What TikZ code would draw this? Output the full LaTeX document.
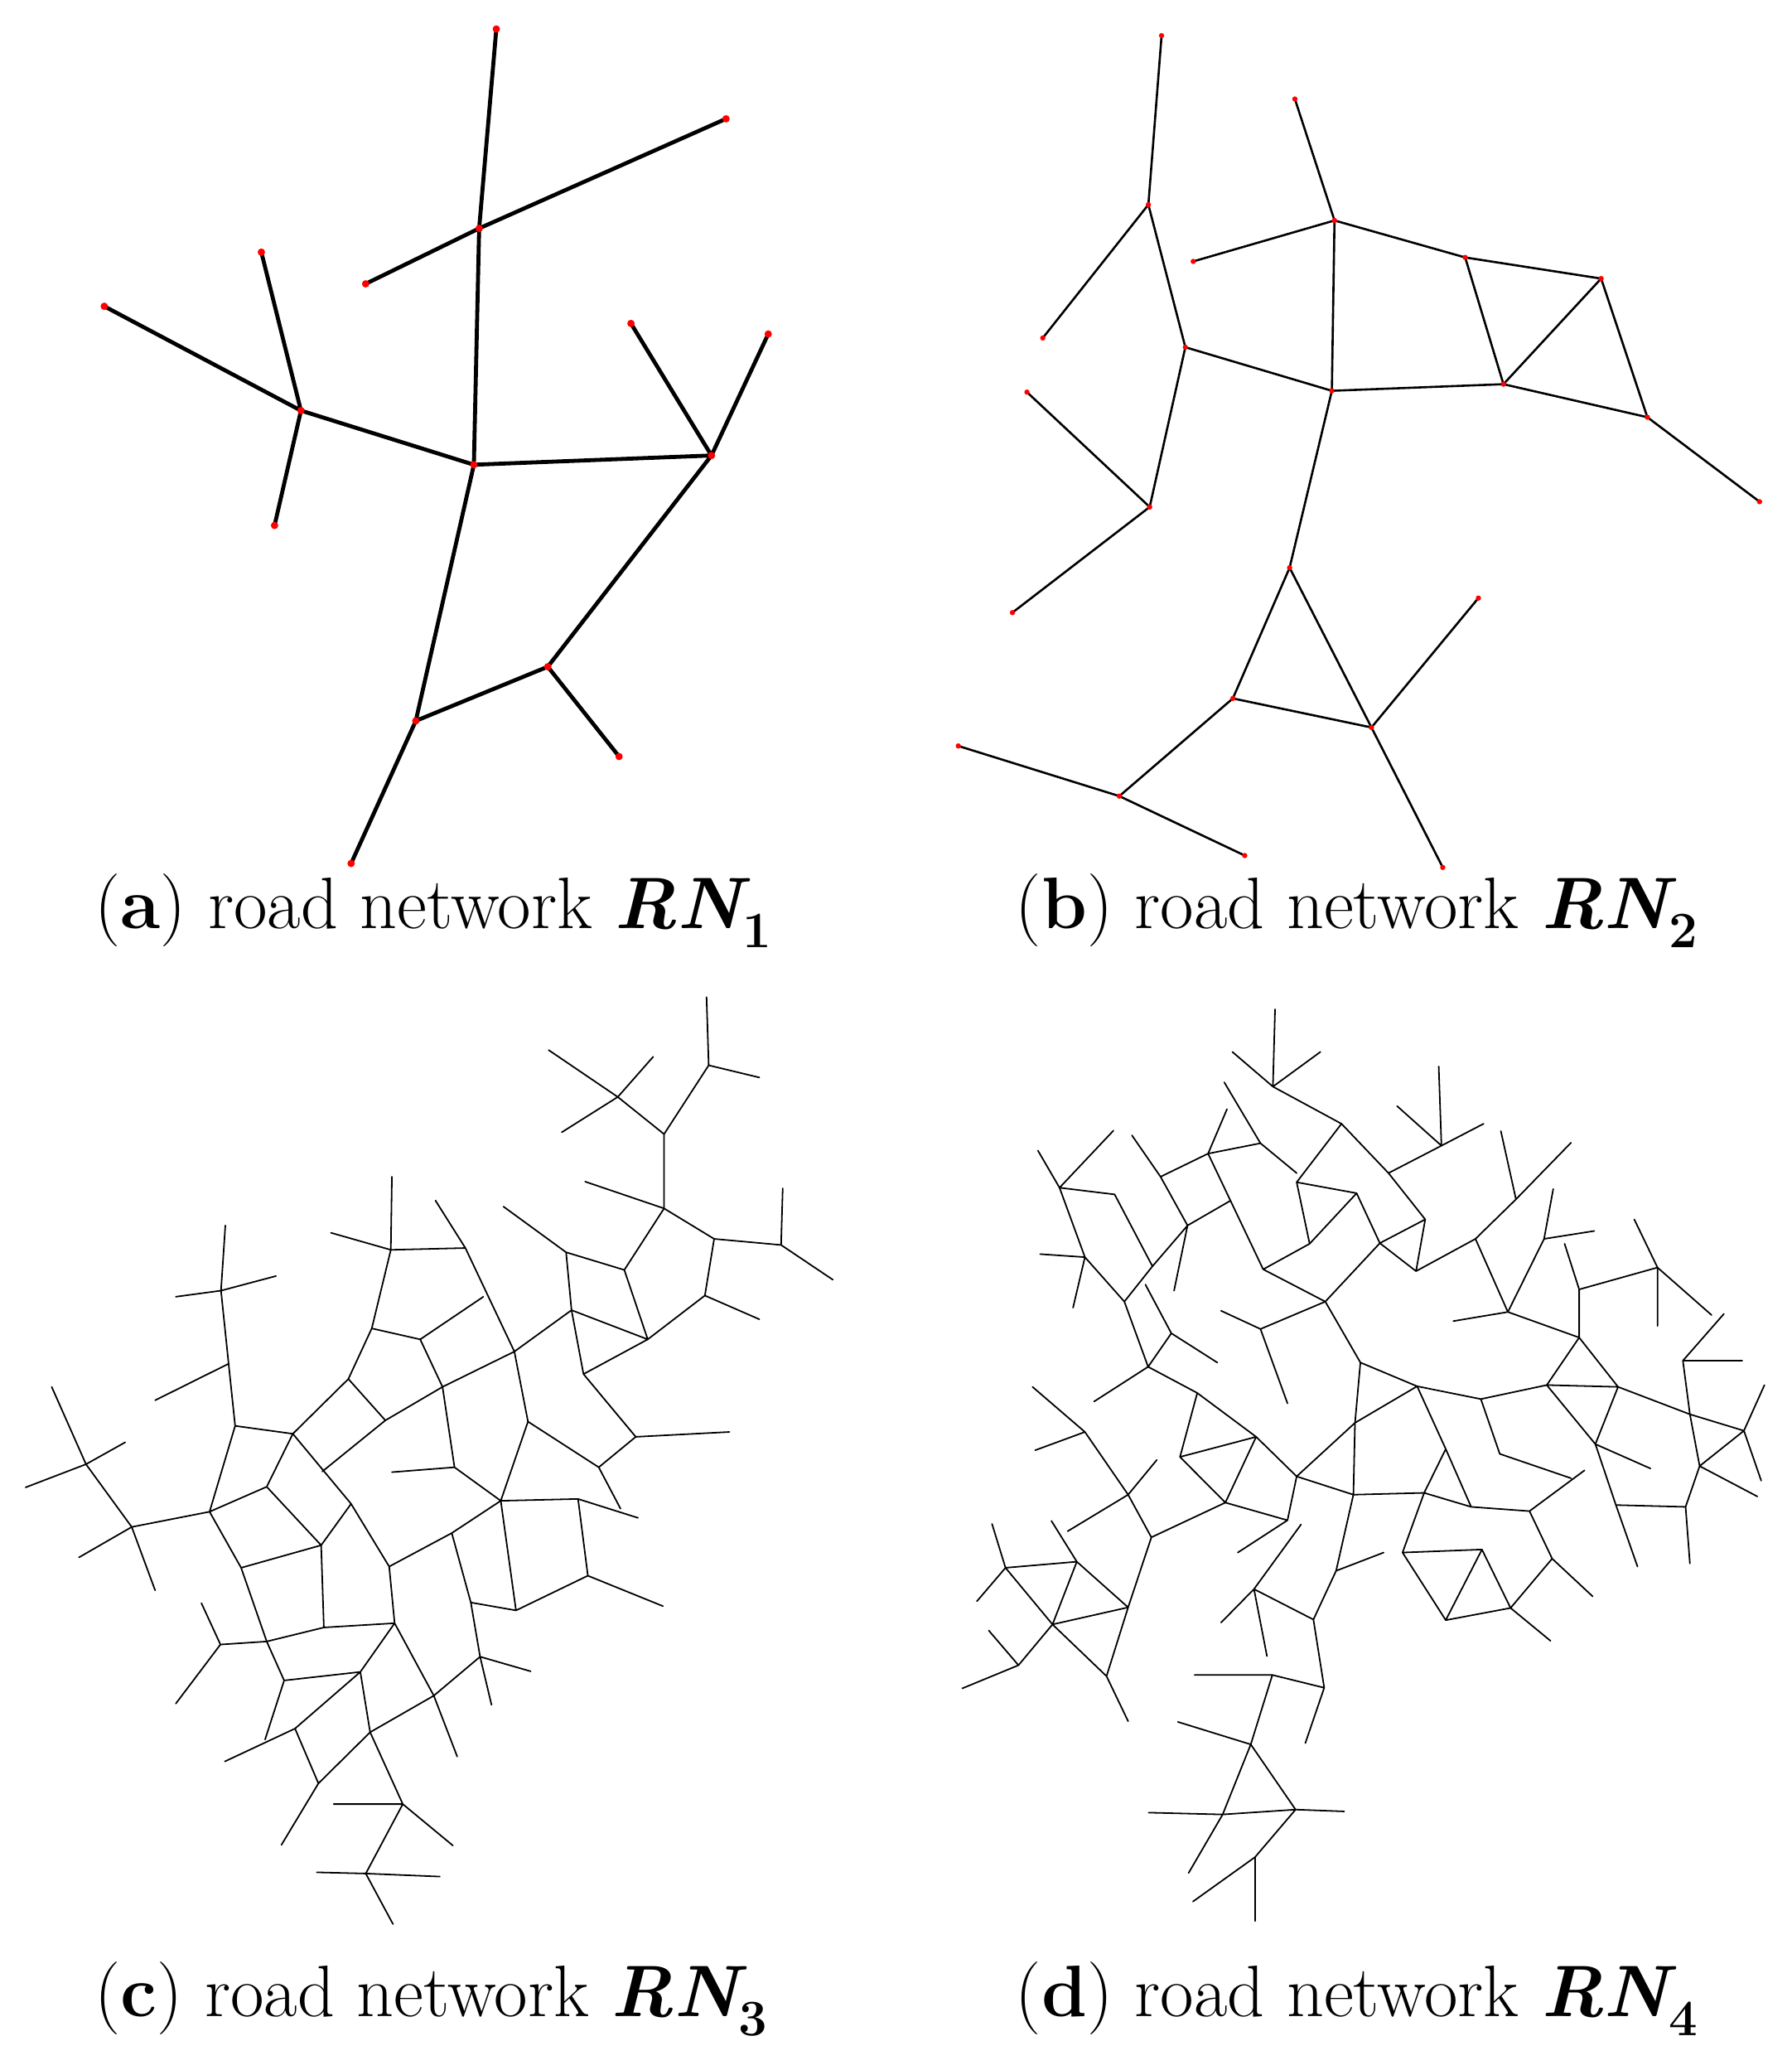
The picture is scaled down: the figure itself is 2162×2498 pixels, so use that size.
\documentclass[tikz,border=0pt]{standalone}
\begin{document}
\begin{tikzpicture}[x=0.5pt,y=-0.5pt,
 ra/.style={line width=2.4pt,line cap=round},
 rb/.style={line width=1.3pt,line cap=round},
 rc/.style={line width=0.9pt,line cap=round},
 dot/.style={fill=red,draw=none},
 lbl/.style={font=\fontsize{44}{52}\selectfont,anchor=base}]
\useasboundingbox (0,0) rectangle (2162,2498);
% ---------- (a) ----------
\begin{scope}[scale=1.593]
\foreach \n/\x/\y in {a1/376/22,a2/363/173,a3/550/90,a4/277/215,a5/79/232,a6/198/191,a7/228/311,a8/208/398,a9/359/352,a10/478/245,a11/582/253,a12/539/345,a13/415/505,a14/469/573,a15/315/546,a16/266/654}
  \coordinate (\n) at (\x,\y);
\draw[ra] (a1)--(a2) (a2)--(a9) (a4)--(a2) (a2)--(a3) (a5)--(a7) (a6)--(a7) (a7)--(a8) (a7)--(a9) (a9)--(a12) (a10)--(a12) (a11)--(a12) (a12)--(a13) (a13)--(a14) (a13)--(a15) (a9)--(a15) (a15)--(a16);
\foreach \n in {a1,a2,a3,a4,a5,a6,a7,a8,a9,a10,a11,a12,a13,a14,a15,a16} \fill[dot] (\n) circle (1.4pt);
% ---------- (b) ----------
\foreach \n/\x/\y in {b1/880/27,b2/870/155,b3/790/256,b4/898/263,b5/981/75,b6/1011/167,b7/904/198,b8/1110/195,b9/1213/211,b10/1139/291,b11/1009/296,b12/1248/316,b13/1333/380,b14/778/297,b15/871/384,b16/767/464,b17/977/430,b18/934/529,b19/1039/551,b20/1120/453,b21/1093/657,b22/726/565,b23/848/603,b24/943/648}
  \coordinate (\n) at (\x,\y);
\draw[rb] (b1)--(b2) (b2)--(b3) (b2)--(b4) (b4)--(b11) (b4)--(b15) (b5)--(b6) (b7)--(b6) (b6)--(b8) (b6)--(b11) (b8)--(b9) (b8)--(b10) (b9)--(b10) (b9)--(b12) (b11)--(b10) (b10)--(b12) (b12)--(b13) (b14)--(b15) (b15)--(b16) (b11)--(b17) (b17)--(b18) (b17)--(b19) (b18)--(b19) (b19)--(b20) (b19)--(b21) (b18)--(b23) (b22)--(b23) (b23)--(b24);
\foreach \n in {b1,b2,b3,b4,b5,b6,b7,b8,b9,b10,b11,b12,b13,b14,b15,b16,b17,b18,b19,b20,b21,b22,b23,b24} \fill[dot] (\n) circle (1pt);
\end{scope}
% ---------- (c) ----------
\begin{scope}[shift={(0,1190)},xscale=0.657,yscale=0.735]
\draw[rc] (1298,18)--(1302,130) (1302,130)--(1395,150) (1302,130)--(1220,243) (1220,243)--(1135,182) (1135,182)--(1008,105) (1135,182)--(1200,116) (1135,182)--(1032,240) (1220,243)--(1220,365)
(1220,365)--(1075,321) (1220,365)--(1312,415) (1312,415)--(1435,425) (1435,425)--(1438,332) (1435,425)--(1530,482) (1312,415)--(1295,508) (1295,508)--(1395,547) (1295,508)--(1190,580) (1220,365)--(1147,466) (1147,466)--(1190,580) (1147,466)--(1040,437) (1040,437)--(925,362) (1040,437)--(1050,532) (1050,532)--(1190,580) (1050,532)--(1072,637) (1072,637)--(1190,580) (1072,637)--(1168,740) (1168,740)--(1340,732) (1168,740)--(1100,790) (1100,790)--(970,715) (1100,790)--(1140,858) (1050,532)--(945,600) (945,600)--(970,715) (945,600)--(855,430) (855,430)--(800,352) (855,430)--(718,433) (718,433)--(720,313) (718,433)--(608,405) (718,433)--(683,562) (683,562)--(772,580) (772,580)--(888,510) (772,580)--(813,658) (945,600)--(813,658) (813,658)--(708,713) (708,713)--(640,645) (683,562)--(640,645) (640,645)--(538,735) (708,713)--(592,797) (813,658)--(835,790) (835,790)--(720,798) (835,790)--(920,845) (970,715)--(920,845) (920,845)--(1062,842) (1062,842)--(1172,873) (1062,842)--(1080,968) (1080,968)--(1218,1018) (1080,968)--(948,1025) (948,1025)--(920,845) (948,1025)--(865,1012) (920,845)--(830,898) (830,898)--(715,953) (715,953)--(645,850) (645,850)--(538,735) (645,850)--(590,918) (590,918)--(490,822) (490,822)--(538,735) (490,822)--(385,863) (385,863)--(432,722) (432,722)--(538,735) (432,722)--(420,620) (420,620)--(285,680) (420,620)--(406,500) (406,500)--(414,393) (406,500)--(323,510) (406,500)--(507,476) (385,863)--(242,888) (242,888)--(158,785) (158,785)--(95,658) (158,785)--(47,823) (158,785)--(230,749) (242,888)--(145,938) (242,888)--(285,992) (385,863)--(443,955) (443,955)--(590,918) (590,918)--(595,1053) (443,955)--(490,1076) (490,1076)--(595,1053) (595,1053)--(725,1046) (715,953)--(725,1046) (490,1076)--(405,1081) (405,1081)--(370,1013) (405,1081)--(323,1178) (490,1076)--(522,1140) (522,1140)--(662,1126) (662,1126)--(725,1046) (725,1046)--(797,1165) (797,1165)--(840,1265) (797,1165)--(882,1101) (882,1101)--(975,1125) (882,1101)--(903,1180) (882,1101)--(865,1012) (865,1012)--(830,898) (522,1140)--(487,1237) (662,1126)--(542,1219) (542,1219)--(413,1273) (542,1219)--(585,1309) (585,1309)--(680,1225) (662,1126)--(680,1225) (680,1225)--(797,1165) (585,1309)--(517,1410) (680,1225)--(740,1343) (740,1343)--(613,1343) (740,1343)--(832,1411) (740,1343)--(672,1457) (672,1457)--(582,1455) (672,1457)--(808,1462) (672,1457)--(722,1540);
\end{scope}
% ---------- (d) ----------
\begin{scope}[shift={(1140,1190)},xscale=0.652,yscale=0.735]
\draw[rc] (612,38)--(608,165) (608,165)--(533,108) (608,165)--(696,108) (608,165)--(735,226) (735,226)--(652,322) (735,226)--(822,307) (822,307)--(890,383) (822,307)--(920,262) (920,262)--(915,132) (920,262)--(838,197) (920,262)--(998,226) (890,383)--(873,468) (890,383)--(806,422) (806,422)--(873,468) (873,468)--(983,415) (983,415)--(1058,350) (1058,350)--(1030,238) (1058,350)--(1160,257) (983,415)--(1043,535) (1043,535)--(1110,415) (1110,415)--(1127,333) (1110,415)--(1203,402) (1043,535)--(942,550) (1043,535)--(1175,577) (1175,577)--(1175,498) (1175,498)--(1148,423) (1175,498)--(1320,462) (1320,462)--(1277,383) (1320,462)--(1320,558) (1320,462)--(1420,540) (1175,577)--(1115,655) (1175,577)--(1247,658) (1115,655)--(993,678) (1115,655)--(1247,658) (1115,655)--(1205,752) (1247,658)--(1205,752) (1247,658)--(1380,703) (1205,752)--(1307,792) (1205,752)--(1243,852) (1243,852)--(1283,953) (1243,852)--(1372,855) (1372,855)--(1380,948) (1372,855)--(1398,788) (1398,788)--(1380,703) (1380,703)--(1367,615) (1367,615)--(1477,615) (1367,615)--(1443,538) (1380,703)--(1480,730) (1480,730)--(1518,655) (1480,730)--(1398,788) (1398,788)--(1505,838) (1480,730)--(1512,812)
(993,678)--(875,657) (875,657)--(770,618) (770,618)--(705,518) (705,518)--(590,465) (590,465)--(488,275) (488,275)--(523,202) (488,275)--(400,313) (400,313)--(347,245) (400,313)--(450,393) (488,275)--(585,258) (585,258)--(518,158) (585,258)--(652,307) (590,465)--(676,423) (676,423)--(652,322) (652,322)--(763,340) (763,340)--(676,423) (763,340)--(806,422) (806,422)--(705,518) (705,518)--(585,563) (585,563)--(512,533) (585,563)--(635,685) (450,393)--(528,353) (450,393)--(425,500) (450,393)--(385,460) (385,460)--(315,342) (315,342)--(213,331) (213,331)--(173,270) (213,331)--(313,237) (213,331)--(260,445) (260,445)--(177,440) (260,445)--(238,528) (260,445)--(333,518) (333,518)--(385,460) (333,518)--(377,625) (377,625)--(420,570) (420,570)--(372,490) (420,570)--(505,618) (377,625)--(277,682) (377,625)--(468,668) (468,668)--(577,740) (577,740)--(652,805) (468,668)--(436,773) (436,773)--(577,740) (436,773)--(520,848) (520,848)--(577,740) (520,848)--(635,877) (635,877)--(652,805) (635,877)--(543,930) (652,805)--(760,717) (760,717)--(875,657) (760,717)--(770,618) (760,717)--(757,835) (652,805)--(757,835) (757,835)--(888,832) (875,657)--(928,760) (928,760)--(975,855) (888,832)--(928,760) (888,832)--(848,930) (888,832)--(975,855) (975,855)--(1083,862) (1083,862)--(1185,795) (1083,862)--(1125,940) (1125,940)--(1200,1002) (1125,940)--(1048,1021) (1048,1021)--(1122,1075) (1048,1021)--(995,925) (995,925)--(848,930) (848,930)--(928,1041) (928,1041)--(995,925) (928,1041)--(1048,1021) (993,678)--(1028,768) (1028,768)--(1160,808)
(757,835)--(725,960) (725,960)--(813,930) (725,960)--(683,1040) (683,1040)--(573,990) (573,990)--(660,884) (573,990)--(512,1045) (573,990)--(597,1100) (683,1040)--(703,1152) (703,1152)--(668,1243) (703,1152)--(607,1131) (607,1131)--(463,1131) (607,1131)--(567,1245) (567,1245)--(432,1208) (567,1245)--(650,1352) (650,1352)--(740,1355) (650,1352)--(515,1360) (515,1360)--(378,1357) (567,1245)--(515,1360) (515,1360)--(452,1456) (650,1352)--(575,1430) (575,1430)--(460,1503) (575,1430)--(575,1535)
(163,658)--(260,732) (260,732)--(168,762) (260,732)--(340,835) (340,835)--(228,895) (340,835)--(393,778) (340,835)--(383,905) (383,905)--(520,848) (383,905)--(340,1020) (340,1020)--(300,1133) (300,1133)--(340,1207) (300,1133)--(200,1048) (200,1048)--(137,1115) (137,1115)--(33,1153) (137,1115)--(82,1058) (200,1048)--(340,1020) (340,1020)--(245,945) (245,945)--(198,878) (245,945)--(113,955) (113,955)--(88,883) (113,955)--(60,1010) (113,955)--(200,1048) (200,1048)--(245,945);
\end{scope}
% ---------- captions ----------
\node[lbl] (ca) at (523,1120) {(\textbf{a}) road network {\bfseries\itshape RN}\textsubscript{\bfseries 1}};
\node[lbl] (cb) at (1638,1120) {(\textbf{b}) road network {\bfseries\itshape RN}\textsubscript{\bfseries 2}};
\node[lbl] (cc) at (521,2433) {(\textbf{c}) road network {\bfseries\itshape RN}\textsubscript{\bfseries 3}};
\node[lbl] (cd) at (1638,2433) {(\textbf{d}) road network {\bfseries\itshape RN}\textsubscript{\bfseries 4}};
\end{tikzpicture}
\end{document}
